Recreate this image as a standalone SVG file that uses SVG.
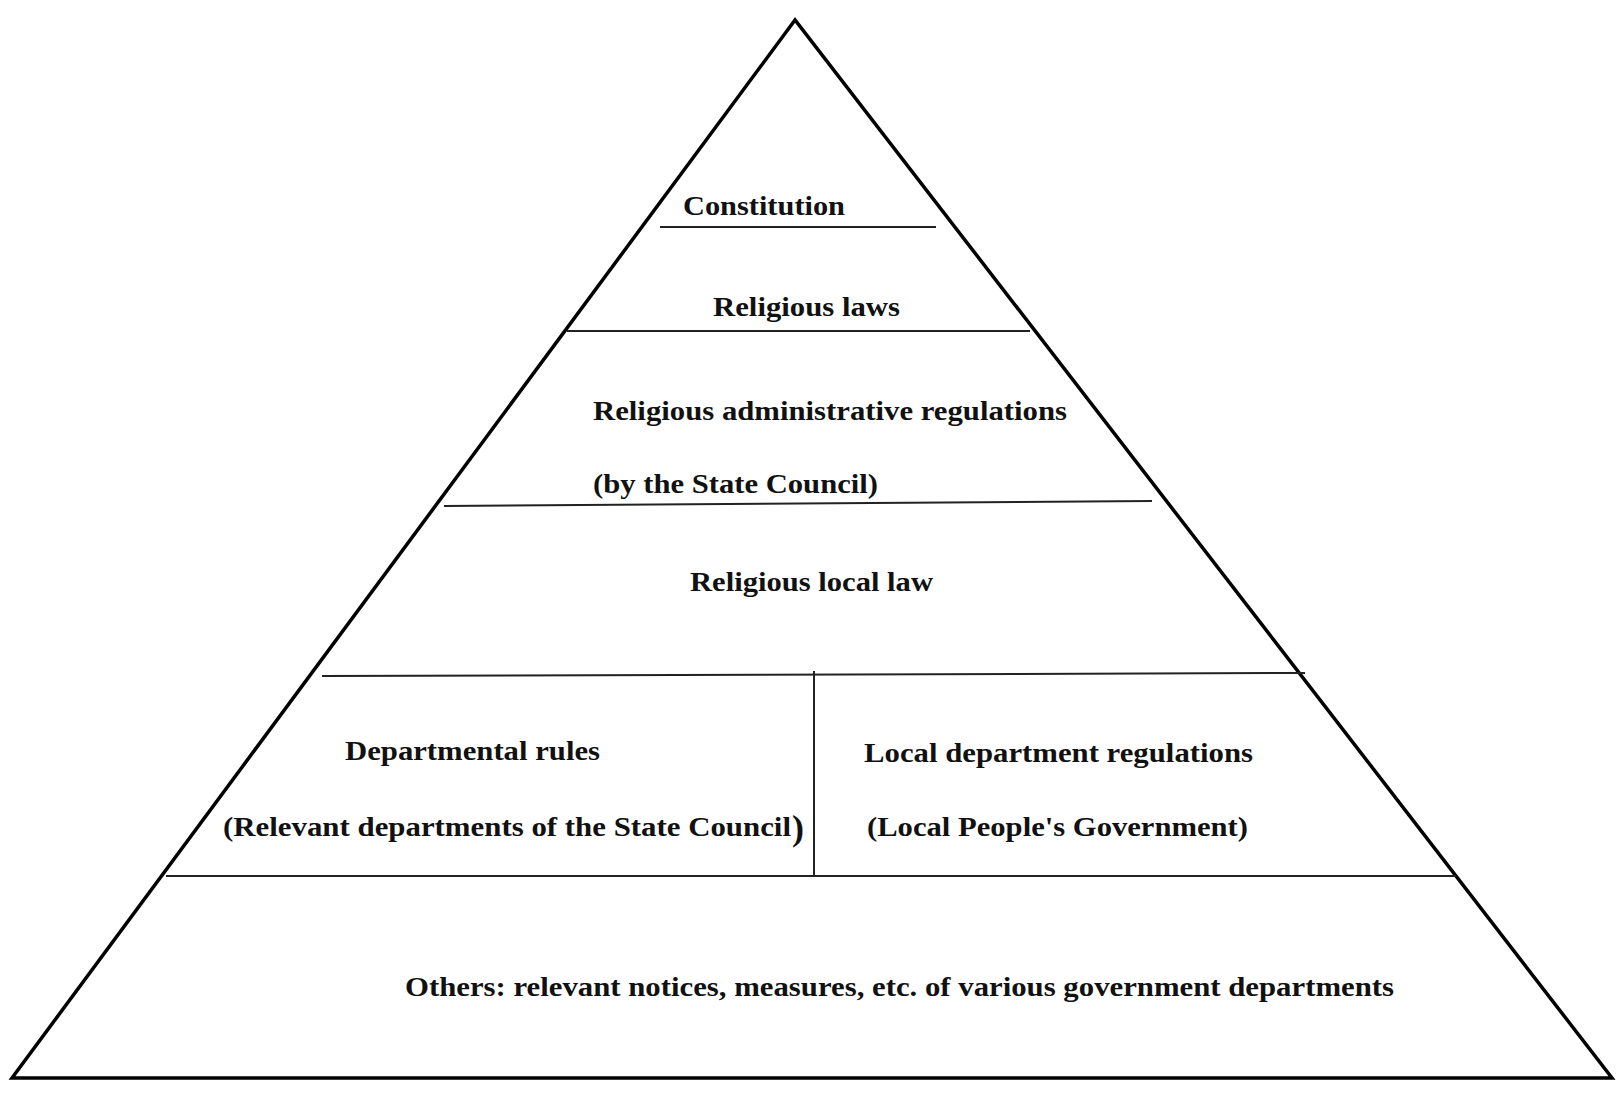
<svg xmlns="http://www.w3.org/2000/svg" width="1622" height="1098" viewBox="0 0 1622 1098">
<style>
text{font-family:"Liberation Serif","Times New Roman",serif;font-weight:bold;font-size:27px;fill:#111}
.l{stroke:#222;stroke-width:2;fill:none}
</style>
<rect width="1622" height="1098" fill="#fff"/>
<g id="pyramid"><polygon points="795,20 12,1078 1612,1078" fill="none" stroke="#000" stroke-width="3.5"/></g>
<g id="connectors">
<line class="l" x1="660" y1="227" x2="936" y2="227"/>
<line class="l" x1="567" y1="331" x2="1030" y2="331"/>
<line class="l" x1="444" y1="506" x2="1152" y2="501"/>
<line class="l" x1="322" y1="676" x2="1305" y2="673"/>
<line class="l" x1="814" y1="671" x2="814" y2="876"/>
<line class="l" x1="166" y1="876" x2="1456" y2="876"/>
</g>
<g id="constitution"><text x="683" y="215" textLength="162" lengthAdjust="spacingAndGlyphs">Constitution</text></g>
<g id="laws"><text x="713" y="316" textLength="187" lengthAdjust="spacingAndGlyphs">Religious laws</text></g>
<g id="admin"><text x="593" y="420" textLength="474" lengthAdjust="spacingAndGlyphs">Religious administrative regulations</text>
<text x="593" y="493" textLength="285" lengthAdjust="spacingAndGlyphs">(by the State Council)</text></g>
<g id="local"><text x="690" y="591" textLength="243" lengthAdjust="spacingAndGlyphs">Religious local law</text></g>
<g id="dept"><text x="345" y="760" textLength="255" lengthAdjust="spacingAndGlyphs">Departmental rules</text>
<text x="223" y="836" textLength="568" lengthAdjust="spacingAndGlyphs">(Relevant departments of the State Council</text>
<text x="792" y="840" style="font-size:36px">)</text></g>
<g id="localdept"><text x="864" y="762" textLength="389" lengthAdjust="spacingAndGlyphs">Local department regulations</text>
<text x="867" y="836" textLength="381" lengthAdjust="spacingAndGlyphs">(Local People's Government)</text></g>
<g id="others"><text x="405" y="996" textLength="989" lengthAdjust="spacingAndGlyphs">Others: relevant notices, measures, etc. of various government departments</text></g>
</svg>
